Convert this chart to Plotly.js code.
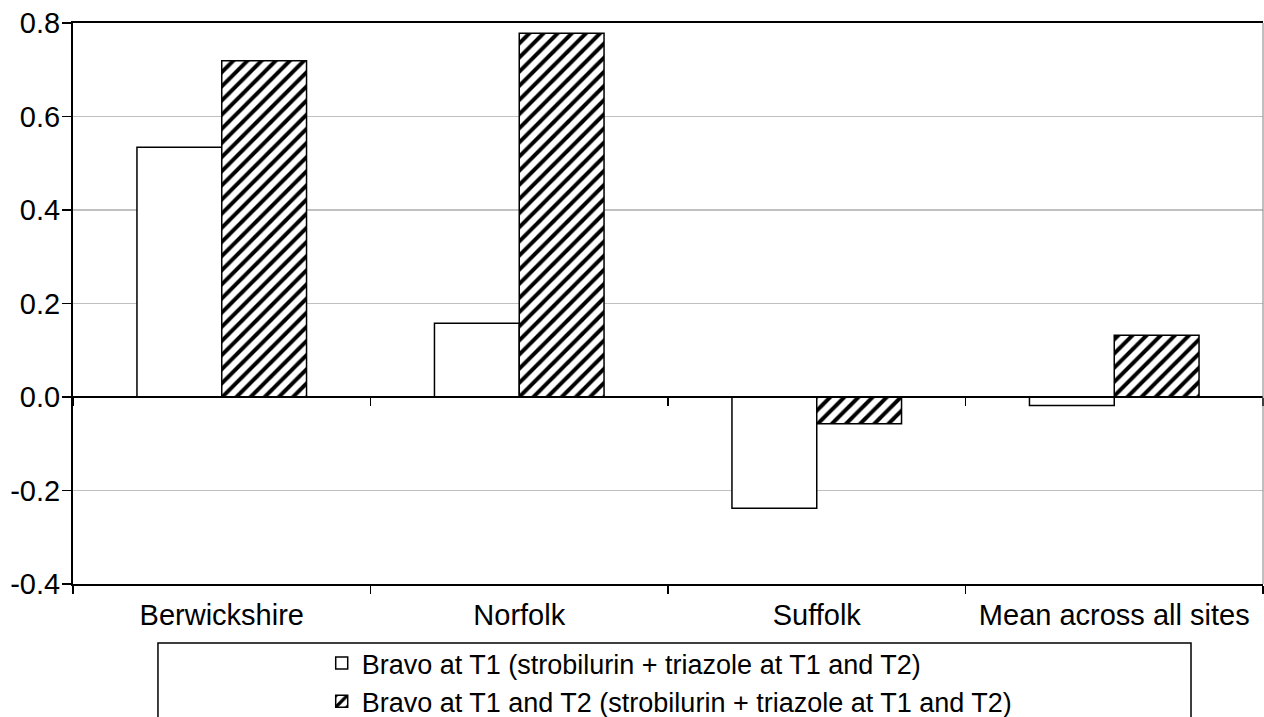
<!DOCTYPE html>
<html>
<head>
<meta charset="utf-8">
<script src="https://cdn.plot.ly/plotly-3.0.1.min.js"></script>
<style>
  html, body { margin: 0; padding: 0; background: #ffffff; }
  #chart { width: 1264px; height: 717px; }
</style>
</head>
<body>
<div id="chart"></div>
<script>
// Sites along the x axis
const sites = ['Berwickshire', 'Norfolk', 'Suffolk', 'Mean across all sites'];

// Yield response for each programme
const bravoT1 = [0.534, 0.158, -0.238, -0.018];
const bravoT1T2 = [0.719, 0.778, -0.057, 0.132];

// Legend labels
const seriesNames = [
  'Bravo at T1 (strobilurin + triazole at T1 and T2)',
  'Bravo at T1 and T2 (strobilurin + triazole at T1 and T2)'
];

// Y axis ticks
const yTicks = [-0.4, -0.2, 0.0, 0.2, 0.4, 0.6, 0.8];
const yTickText = ['-0.4', '-0.2', '0.0', '0.2', '0.4', '0.6', '0.8'];

const FONT = 'Liberation Sans, Arial, sans-serif';
const AXIS_FS = 29;
const LEGEND_FS = 27;

const traces = [
  {
    type: 'bar',
    name: seriesNames[0],
    x: sites,
    y: bravoT1,
    marker: { color: '#ffffff', line: { color: '#000000', width: 1.5 } },
    hoverinfo: 'x+y'
  },
  {
    type: 'bar',
    name: seriesNames[1],
    x: sites,
    y: bravoT1T2,
    marker: {
      color: '#ffffff',
      line: { color: '#000000', width: 1.5 },
      pattern: { shape: '/', fgcolor: '#000000', bgcolor: '#ffffff', size: 10, solidity: 0.4 }
    },
    hoverinfo: 'x+y'
  },
  // carries the category ticks drawn along the zero line
  {
    type: 'scatter',
    mode: 'markers',
    x: sites,
    y: sites.map(() => null),
    xaxis: 'x2',
    yaxis: 'y',
    showlegend: false,
    hoverinfo: 'skip'
  }
];

const layout = {
  width: 1264,
  height: 717,
  paper_bgcolor: '#ffffff',
  plot_bgcolor: '#ffffff',
  margin: { l: 73, r: 1, t: 23, b: 133, pad: 0, autoexpand: false },
  font: { family: FONT, size: AXIS_FS, color: '#000000' },
  barmode: 'group',
  bargap: 0.43,
  bargroupgap: 0,
  showlegend: true,
  legend: {
    orientation: 'v',
    x: 0.209,
    xanchor: 'left',
    y: -0.098,
    yanchor: 'top',
    bgcolor: 'rgba(0,0,0,0)',
    borderwidth: 0,
    font: { family: FONT, size: LEGEND_FS, color: '#000000' },
    traceorder: 'normal',
    tracegroupgap: 0
  },
  xaxis: {
    type: 'category',
    categoryarray: sites,
    range: [-0.5, 3.5],
    showline: true,
    linecolor: '#000000',
    linewidth: 2,
    mirror: true,
    ticks: 'outside',
    tickson: 'boundaries',
    ticklen: 8,
    tickwidth: 1.5,
    tickcolor: '#000000',
    tickangle: 0,
    ticklabelstandoff: 4,
    showgrid: false,
    zeroline: false,
    automargin: false,
    tickfont: { family: FONT, size: AXIS_FS, color: '#000000' },
    fixedrange: true
  },
  xaxis2: {
    type: 'category',
    categoryarray: sites,
    range: [-0.5, 3.5],
    overlaying: 'x',
    anchor: 'free',
    position: 1 / 3,
    side: 'bottom',
    showline: true,
    linecolor: '#000000',
    linewidth: 2,
    ticks: 'outside',
    tickson: 'boundaries',
    ticklen: 8,
    tickwidth: 1.5,
    tickcolor: '#000000',
    showticklabels: false,
    showgrid: false,
    zeroline: false,
    fixedrange: true
  },
  yaxis: {
    range: [-0.4, 0.8],
    tickmode: 'array',
    tickvals: yTicks,
    ticktext: yTickText,
    showline: true,
    linecolor: '#000000',
    linewidth: 2,
    ticks: 'outside',
    ticklen: 9,
    tickwidth: 1.5,
    tickcolor: '#000000',
    ticklabelstandoff: -4,
    showgrid: true,
    gridcolor: '#c0c0c0',
    gridwidth: 1.5,
    zeroline: false,
    automargin: false,
    tickfont: { family: FONT, size: AXIS_FS, color: '#000000' },
    fixedrange: true
  },
  shapes: [
    // right edge of the plot frame
    { type: 'line', xref: 'paper', yref: 'paper', x0: 1, x1: 1, y0: 0, y1: 1,
      line: { color: '#808080', width: 1 } },
    // legend frame
    { type: 'rect', xref: 'paper', yref: 'paper',
      x0: 0.0714, x1: 0.9395, y0: -0.105, y1: -0.40,
      line: { color: '#000000', width: 1.5 }, fillcolor: 'rgba(0,0,0,0)', layer: 'below' }
  ]
};

Plotly.newPlot('chart', traces, layout, { displayModeBar: false, staticPlot: true });
</script>
</body>
</html>
